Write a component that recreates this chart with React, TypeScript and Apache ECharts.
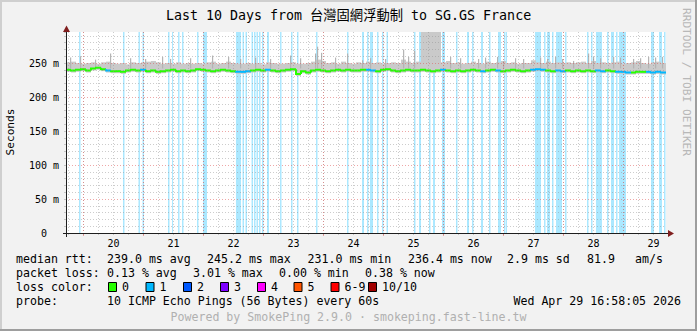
import React, { useEffect, useRef } from 'react';
import * as echarts from 'echarts';

// ---------- data ----------
const chartTitle = 'Last 10 Days from 台灣固網浮動制 to SG.GS France';
const yAxisName = 'Seconds';
const watermark = 'RRDTOOL / TOBI OETIKER';

// time axis in fractional day-of-month (April)
const startDay = 19 + (16 + 58 / 60 + 5 / 3600) / 24;
const endDay = startDay + 10;
const sampleStepDays = 2 / 24;
const spikeWidthDays = 0.02;
const dayLabels = [20, 21, 22, 23, 24, 25, 26, 27, 28, 29];
const yMax = 295.6;
const yStep = 10;

// median rtt (ms), one value every 2 hours
const medianRtt = [
  240, 239, 240, 241, 239, 242, 243, 241, 239, 238,
  238, 237, 239, 240, 239, 240, 238, 239, 237, 238,
  239, 240, 238, 239, 238, 239, 241, 240, 239, 238,
  239, 240, 239, 238, 237, 237, 238, 239, 240, 239,
  240, 239, 238, 239, 240, 241, 234, 238, 236, 239,
  240, 239, 238, 239, 240, 239, 240, 239, 239, 240,
  240, 239, 238, 240, 241, 239, 238, 239, 240, 239,
  239, 240, 239, 238, 239, 240, 239, 238, 239, 238,
  239, 240, 239, 238, 239, 240, 239, 238, 239, 240,
  239, 238, 239, 240, 241, 240, 239, 238, 239, 238,
  239, 238, 239, 238, 239, 238, 239, 238, 239, 238,
  237, 237, 236, 236, 237, 237, 237, 236, 237, 236,
];
// packets lost (of 10) at the median sample
const medianLoss = [
  0, 0, 0, 0, 0, 0, 0, 0, 1, 0,
  0, 0, 0, 0, 0, 1, 0, 0, 0, 0,
  0, 0, 0, 0, 0, 0, 0, 0, 0, 0,
  0, 0, 0, 0, 1, 1, 1, 0, 0, 0,
  1, 0, 0, 0, 0, 0, 0, 0, 0, 0,
  0, 0, 0, 0, 0, 0, 0, 0, 0, 0,
  1, 1, 0, 0, 0, 0, 0, 0, 0, 0,
  0, 0, 0, 0, 0, 1, 0, 0, 0, 0,
  0, 0, 0, 1, 0, 0, 1, 0, 0, 0,
  0, 0, 0, 1, 1, 1, 0, 0, 1, 1,
  0, 0, 0, 0, 0, 0, 1, 1, 0, 0,
  1, 1, 1, 0, 0, 0, 1, 1, 1, 1,
];
// smoke band: upper edge of the dense pings (ms)
const smokeHigh = [
  251, 252, 250, 249, 250, 251, 249, 251, 252, 250,
  249, 250, 248, 251, 250, 251, 252, 253, 251, 249,
  250, 249, 251, 249, 250, 249, 250, 249, 251, 252,
  249, 250, 252, 250, 249, 249, 250, 249, 250, 248,
  251, 250, 249, 249, 250, 251, 249, 249, 250, 252,
  255, 253, 250, 251, 249, 252, 250, 249, 251, 250,
  252, 250, 251, 249, 250, 251, 250, 255, 252, 250,
  252, 320, 320, 320, 320, 251, 253, 250, 251, 249,
  250, 252, 250, 249, 252, 250, 251, 253, 250, 251,
  249, 250, 250, 254, 251, 250, 252, 250, 251, 250,
  251, 250, 251, 252, 250, 253, 250, 251, 250, 251,
  252, 249, 250, 251, 253, 250, 249, 251, 252, 250,
];
// smoke band: lowest ping (ms)
const smokeLow = [
  237, 236, 237, 238, 236, 239, 240, 238, 236, 235,
  235, 234, 236, 237, 236, 237, 235, 236, 234, 235,
  236, 237, 235, 236, 235, 236, 238, 237, 236, 235,
  236, 237, 236, 235, 234, 234, 235, 236, 237, 236,
  237, 236, 235, 236, 237, 238, 231, 235, 233, 236,
  237, 236, 235, 236, 237, 236, 237, 236, 236, 237,
  237, 236, 235, 237, 238, 236, 235, 236, 237, 236,
  236, 237, 236, 235, 236, 237, 236, 235, 236, 235,
  236, 237, 236, 235, 236, 237, 236, 235, 236, 237,
  236, 235, 236, 237, 238, 237, 236, 235, 236, 235,
  236, 235, 236, 235, 236, 235, 236, 235, 236, 235,
  234, 234, 233, 233, 234, 234, 234, 233, 234, 233,
];
// isolated slow pings sticking out of the smoke [day, ms]
const smokeSpikes: [number, number][] = [
  [19.774, 258], [19.94, 260], [20.19, 255], [20.44, 264], [20.774, 257],
  [21.024, 256], [21.307, 259], [21.44, 256], [21.774, 257], [22.14, 261],
  [22.407, 259], [22.607, 256], [22.857, 258], [23.107, 256], [23.44, 261],
  [23.607, 257], [23.857, 264], [23.89, 274], [23.957, 265], [24.19, 258],
  [24.39, 264], [24.64, 254], [24.774, 257], [25.024, 256], [25.324, 270],
  [25.407, 259], [25.507, 268], [26.107, 259], [26.274, 257], [26.574, 256],
  [26.69, 258], [26.89, 259], [26.99, 253], [27.19, 257], [27.324, 256],
  [27.607, 258], [27.724, 256], [27.857, 259], [27.974, 256], [28.157, 253],
  [28.407, 264], [28.49, 259], [28.607, 257], [28.824, 259], [28.94, 258],
  [29.157, 256], [29.274, 257], [29.407, 259], [29.524, 258], [29.64, 259],
];
const spikeBase = 242;
// periods with 1/10 packet loss [from, to] (day of month)
const lossPeriods: [number, number][] = [
  [19.924, 19.949], [20.657, 20.682], [20.915, 20.94], [20.982, 21.007],
  [21.407, 21.432], [21.474, 21.491], [21.574, 21.599], [21.64, 21.665],
  [21.89, 21.915], [21.99, 22.057], [22.54, 22.624], [22.649, 22.674],
  [22.699, 22.724], [22.799, 22.824], [22.84, 22.865], [22.882, 22.907],
  [22.924, 22.949], [22.974, 22.999], [23.057, 23.09], [23.274, 23.299],
  [23.457, 23.482], [23.557, 23.582], [23.874, 23.899], [24.39, 24.415],
  [24.64, 24.674], [24.724, 24.749], [24.774, 24.824], [24.89, 24.915],
  [24.974, 24.999], [25.049, 25.074], [25.507, 25.532], [25.59, 25.624],
  [25.757, 25.782], [25.824, 25.857], [25.974, 26.024], [26.207, 26.232],
  [26.39, 26.424], [26.474, 26.499], [26.624, 26.657], [26.757, 26.782],
  [26.907, 26.957], [27.007, 27.032], [27.04, 27.057], [27.524, 27.624],
  [27.674, 27.699], [27.724, 27.774], [27.807, 27.832], [27.874, 27.974],
  [28.024, 28.049], [28.39, 28.415], [28.457, 28.482], [28.54, 28.64],
  [28.724, 28.749], [28.79, 28.84], [28.874, 28.899], [28.924, 29.04],
  [29.457, 29.507], [29.59, 29.64], [29.674, 29.699],
];

const lossLegendLabels = ['0', '1', '2', '3', '4', '5', '6-9', '10/10'];
const lossLegendColors = ['#26ff00', '#00b8ff', '#0059ff', '#7e00ff', '#ff00ff', '#ff5500', '#ff0000', '#a10000'];

const statsRtt = ['239.0 ms avg', '245.2 ms max', '231.0 ms min', '236.4 ms now', '2.9 ms sd', '81.9', 'am/s'];
const statsLoss = ['0.13 % avg', '3.01 % max', '0.00 % min', '0.38 % now'];
const probeText = '10 ICMP Echo Pings (56 Bytes) every 60s';
const dateText = 'Wed Apr 29 16:58:05 2026';
const footerText = 'Powered by SmokePing 2.9.0 · smokeping.fast-line.tw';

// ---------- styling ----------
const MONO = '"DejaVu Sans Mono", "Noto Sans CJK TC", monospace';
const GRID_MINOR = 'rgba(143,143,143,0.45)';
const GRID_MAJOR = 'rgba(222,79,79,0.5)';
const AXIS = '#1f1f1f';
const ARROW = '#801f1f';
const SMOKE = '#cacaca';

export default function App() {
  const ref = useRef<HTMLDivElement>(null);
  useEffect(() => {
    if (!ref.current) return;
    const chart = echarts.init(ref.current, undefined, { renderer: 'svg' });

    const quarterTicks: number[] = [];
    for (let d = 19; d <= 30; d += 0.25) quarterTicks.push(d);
    const midnights = dayLabels.slice();
    const noons = dayLabels.map((d) => d + 0.5);

    const samples = medianRtt.map((m, i) => [
      startDay + i * sampleStepDays,
      m,
      medianLoss[i],
      i > 0 ? medianRtt[i - 1] : m,
    ]);
    const smoke = smokeHigh.map((h, i) => [startDay + i * sampleStepDays, smokeLow[i], h]);

    const font = (s: number) => `${s}px ${MONO}`;
    const texts: any[] = [];
    const addText = (text: string, x: number, y: number, opts: any = {}) =>
      texts.push({
        type: 'text',
        x,
        y,
        rotation: opts.rotation || 0,
        silent: true,
        style: {
          text,
          font: font(opts.size || 11.6),
          fill: opts.color || '#000',
          textAlign: opts.align || 'left',
          textVerticalAlign: 'middle',
        },
      });

    addText(chartTitle, 348.5, 15, { size: 13.3, align: 'center' });
    addText(yAxisName, 10.5, 132, { size: 11.2, align: 'center', rotation: Math.PI / 2 });
    addText(watermark, 686, 82, { size: 11.2, align: 'center', rotation: -Math.PI / 2, color: '#b8b8b8' });

    const rttX = [107, 207, 307.5, 408, 507, 587, 635];
    addText('median rtt:', 16, 259);
    statsRtt.forEach((s, i) => addText(s, rttX[i], 259));
    const lossX = [107, 193, 279, 365];
    addText('packet loss:', 16, 273);
    statsLoss.forEach((s, i) => addText(s, lossX[i], 273));
    addText('loss color:', 16, 287);
    const boxX = [108, 145.5, 183, 220, 257, 293.5, 330.5, 368];
    lossLegendLabels.forEach((l, i) => {
      texts.push({
        type: 'rect',
        silent: true,
        shape: { x: boxX[i] + 0.5, y: 282.5, width: 8, height: 9 },
        style: { fill: lossLegendColors[i], stroke: '#000', lineWidth: 1 },
      });
      addText(l, boxX[i] + 14, 287);
    });
    addText('probe:', 16, 301);
    addText(probeText, 107, 301);
    addText(dateText, 681, 301, { align: 'right' });
    addText(footerText, 348.5, 317, { color: '#b0b0b0', align: 'center' });

    const frame: any[] = [
      { type: 'rect', silent: true, shape: { x: 0, y: 0, width: 697, height: 2 }, style: { fill: '#cfcfcf' } },
      { type: 'rect', silent: true, shape: { x: 0, y: 0, width: 2, height: 331 }, style: { fill: '#cfcfcf' } },
      { type: 'rect', silent: true, shape: { x: 0, y: 329, width: 697, height: 2 }, style: { fill: '#9e9e9e' } },
      { type: 'rect', silent: true, shape: { x: 695, y: 0, width: 2, height: 331 }, style: { fill: '#9e9e9e' } },
      // axes
      { type: 'line', silent: true, z: 50, shape: { x1: 63, y1: 233.5, x2: 669, y2: 233.5 }, style: { stroke: AXIS, lineWidth: 1 } },
      { type: 'line', silent: true, z: 50, shape: { x1: 66.5, y1: 237, x2: 66.5, y2: 29 }, style: { stroke: AXIS, lineWidth: 1 } },
      { type: 'polygon', silent: true, z: 51, shape: { points: [[668, 230], [674, 233.5], [668, 237]] }, style: { fill: ARROW } },
      { type: 'polygon', silent: true, z: 51, shape: { points: [[63, 32], [66.5, 25.5], [70, 32]] }, style: { fill: ARROW } },
    ];

    const baseX = {
      type: 'value',
      min: startDay,
      max: endDay,
      position: 'bottom',
      z: 5,
      axisLine: { show: false },
      axisLabel: { show: false },
    };

    chart.setOption({
      animation: false,
      backgroundColor: '#f2f2f2',
      grid: { left: 66, top: 32, width: 600, height: 201, show: true, backgroundColor: '#ffffff', borderWidth: 0 },
      xAxis: [
        {
          ...baseX,
          axisTick: { show: true, length: 2, customValues: quarterTicks, lineStyle: { color: GRID_MINOR } },
          splitLine: { show: true, lineStyle: { color: GRID_MINOR, type: [1, 2], width: 1 } },
        },
        {
          ...baseX,
          axisTick: { show: true, length: 3, customValues: midnights, lineStyle: { color: GRID_MAJOR } },
          splitLine: { show: true, lineStyle: { color: GRID_MAJOR, type: [1, 2], width: 1 } },
        },
        {
          ...baseX,
          axisTick: { show: false },
          splitLine: { show: false },
          axisLabel: {
            show: true,
            customValues: noons,
            formatter: (v: number) => String(Math.floor(v)),
            fontFamily: MONO,
            fontSize: 10,
            color: '#000',
            margin: 5,
          },
        },
      ],
      yAxis: {
        type: 'value',
        min: 0,
        max: yMax,
        interval: yStep,
        z: 5,
        axisLine: { show: false },
        axisTick: { show: true, length: 2, lineStyle: { color: GRID_MINOR } },
        splitLine: {
          show: true,
          showMaxLine: false,
          lineStyle: { color: [GRID_MAJOR, GRID_MINOR, GRID_MINOR, GRID_MINOR, GRID_MINOR], type: [1, 2], width: 1 },
        },
        axisLabel: {
          fontFamily: MONO,
          fontSize: 10,
          color: '#000',
          margin: 7,
          formatter: (v: number) => (v % 50 === 0 ? (v === 0 ? '0\u00a0\u00a0' : `${v} m`) : ''),
        },
      },
      series: [
        {
          type: 'custom',
          name: 'loss',
          xAxisIndex: 0,
          clip: true,
          z: 1,
          data: lossPeriods,
          renderItem: (_p: any, api: any) => {
            const a = api.coord([api.value(0), yMax]);
            const b = api.coord([api.value(1), 0]);
            return {
              type: 'rect',
              shape: { x: a[0], y: a[1], width: Math.max(1, b[0] - a[0]), height: b[1] - a[1] },
              style: { fill: 'rgba(0,184,255,0.33)' },
            };
          },
        },
        {
          type: 'custom',
          name: 'smoke',
          xAxisIndex: 0,
          clip: true,
          z: 2,
          data: smoke,
          renderItem: (_p: any, api: any) => {
            const t = api.value(0);
            const a = api.coord([t, api.value(2)]);
            const b = api.coord([t + sampleStepDays, api.value(1)]);
            return {
              type: 'rect',
              shape: { x: a[0], y: a[1], width: b[0] - a[0], height: b[1] - a[1] },
              style: { fill: SMOKE },
            };
          },
        },
        {
          type: 'custom',
          name: 'spikes',
          xAxisIndex: 0,
          clip: true,
          z: 2,
          data: smokeSpikes,
          renderItem: (_p: any, api: any) => {
            const t = api.value(0);
            const a = api.coord([t, api.value(1)]);
            const b = api.coord([t + spikeWidthDays, spikeBase]);
            return {
              type: 'rect',
              shape: { x: a[0], y: a[1], width: b[0] - a[0], height: b[1] - a[1] },
              style: { fill: '#b4b4b4' },
            };
          },
        },
        {
          type: 'custom',
          name: 'median',
          xAxisIndex: 0,
          clip: true,
          z: 3,
          data: samples,
          renderItem: (_p: any, api: any) => {
            const t = api.value(0);
            const m = api.value(1);
            const loss = api.value(2);
            const prev = api.value(3);
            const p0 = api.coord([t, prev]);
            const p1 = api.coord([t, m]);
            const p2 = api.coord([t + sampleStepDays, m]);
            return {
              type: 'polyline',
              shape: { points: [p0, p1, p2] },
              style: { stroke: lossLegendColors[loss], lineWidth: 2, fill: 'none' },
            };
          },
        },
      ],
      graphic: [...frame, ...texts],
    });
    return () => chart.dispose();
  }, []);
  return <div ref={ref} style={{ position: 'fixed', left: 0, top: 0, width: 697, height: 331 }} />;
}
